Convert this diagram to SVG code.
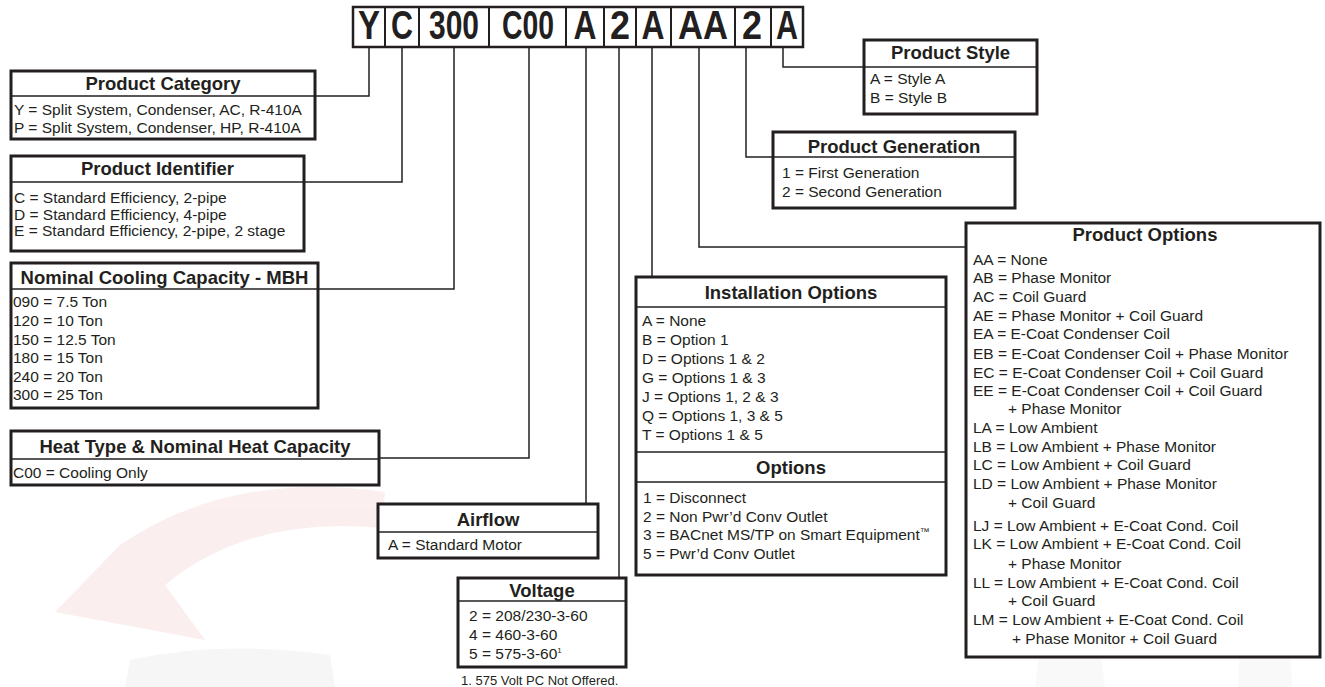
<svg xmlns="http://www.w3.org/2000/svg" width="1325" height="687" viewBox="0 0 1325 687">
<style>
.box{fill:#fff;stroke:#231f20;stroke-width:3}
.sep{stroke:#231f20;stroke-width:1.5}
.conn{fill:none;stroke:#231f20;stroke-width:1.5}
.cell{fill:#fff;stroke:#231f20;stroke-width:2}
.h{font-family:"Liberation Sans",Arial,sans-serif;font-weight:bold;font-size:18.5px;text-anchor:middle;fill:#231f20}
.t{font-family:"Liberation Sans",Arial,sans-serif;font-size:15.5px;fill:#231f20}
.fn{font-family:"Liberation Sans",Arial,sans-serif;font-size:13px;fill:#231f20}
.code{font-family:"Liberation Sans",Arial,sans-serif;font-weight:bold;font-size:40.5px;text-anchor:middle;fill:#231f20}
</style>
<rect width="1325" height="687" fill="#fff"/>
<g id="watermark" opacity="0.3">
<path d="M55,612 L120,545 Q230,470 385,492 L382,528 Q250,515 165,585 L205,640 Z" fill="#f1c9c9"/>
<path d="M130,660 Q220,640 330,655 L335,687 L125,687 Z" fill="#e4e4e8"/>
<path d="M1040,650 L1100,648 L1105,687 L1035,687 Z" fill="#ececec"/>
<path d="M1240,645 L1290,645 L1292,687 L1238,687 Z" fill="#ececec"/>
</g>
<g id="connectors">
<path class="conn" d="M369,47 V96 H315"/>
<path class="conn" d="M402,47 V182 H304"/>
<path class="conn" d="M454,47 V289 H318"/>
<path class="conn" d="M529,47 V458 H379"/>
<path class="conn" d="M586,47 V504"/>
<path class="conn" d="M619,47 V578"/>
<path class="conn" d="M652,47 V277"/>
<path class="conn" d="M699,47 V247 H966"/>
<path class="conn" d="M746,47 V157 H773"/>
<path class="conn" d="M783,47 V67 H864"/>
</g>
<g id="model-code">
<rect class="cell" x="353" y="7" width="32" height="40"/>
<rect class="cell" x="385" y="7" width="34" height="40"/>
<rect class="cell" x="419" y="7" width="70" height="40"/>
<rect class="cell" x="489" y="7" width="77" height="40"/>
<rect class="cell" x="566" y="7" width="38" height="40"/>
<rect class="cell" x="604" y="7" width="32" height="40"/>
<rect class="cell" x="636" y="7" width="35" height="40"/>
<rect class="cell" x="671" y="7" width="64" height="40"/>
<rect class="cell" x="735" y="7" width="36" height="40"/>
<rect class="cell" x="771" y="7" width="32" height="40"/>
<rect x="353" y="7" width="450" height="40" fill="none" stroke="#231f20" stroke-width="2.5"/>
<text class="code" x="369" y="39" textLength="22" lengthAdjust="spacingAndGlyphs">Y</text>
<text class="code" x="402" y="39" textLength="22" lengthAdjust="spacingAndGlyphs">C</text>
<text class="code" x="454" y="39" textLength="50" lengthAdjust="spacingAndGlyphs">300</text>
<text class="code" x="528" y="39" textLength="52" lengthAdjust="spacingAndGlyphs">C00</text>
<text class="code" x="585" y="39" textLength="23" lengthAdjust="spacingAndGlyphs">A</text>
<text class="code" x="620" y="39" textLength="20" lengthAdjust="spacingAndGlyphs">2</text>
<text class="code" x="653" y="39" textLength="23" lengthAdjust="spacingAndGlyphs">A</text>
<text class="code" x="703" y="39" textLength="50" lengthAdjust="spacingAndGlyphs">AA</text>
<text class="code" x="752" y="39" textLength="20" lengthAdjust="spacingAndGlyphs">2</text>
<text class="code" x="787" y="39" textLength="22" lengthAdjust="spacingAndGlyphs">A</text>
</g>
<g id="product-category">
<rect class="box" x="11" y="71" width="304" height="68"/>
<line class="sep" x1="11" y1="96" x2="315" y2="96"/>
<text class="h" x="163" y="89.5">Product Category</text>
<text class="t" x="14" y="114.5">Y = Split System, Condenser, AC, R-410A</text>
<text class="t" x="14" y="132.5">P = Split System, Condenser, HP, R-410A</text>
</g>
<g id="product-identifier">
<rect class="box" x="11" y="156" width="293" height="95"/>
<line class="sep" x1="11" y1="182" x2="304" y2="182"/>
<text class="h" x="157.5" y="174.5">Product Identifier</text>
<text class="t" x="14" y="202.5">C = Standard Efficiency, 2-pipe</text>
<text class="t" x="14" y="219.5">D = Standard Efficiency, 4-pipe</text>
<text class="t" x="14" y="236">E = Standard Efficiency, 2-pipe, 2 stage</text>
</g>
<g id="nominal-cooling">
<rect class="box" x="11" y="263" width="307" height="145"/>
<line class="sep" x1="11" y1="289" x2="318" y2="289"/>
<text class="h" x="164.5" y="283.5">Nominal Cooling Capacity - MBH</text>
<text class="t" x="13" y="306.5">090 = 7.5 Ton</text>
<text class="t" x="13" y="325.5">120 = 10 Ton</text>
<text class="t" x="13" y="344.5">150 = 12.5 Ton</text>
<text class="t" x="13" y="362.5">180 = 15 Ton</text>
<text class="t" x="13" y="381.5">240 = 20 Ton</text>
<text class="t" x="13" y="399.5">300 = 25 Ton</text>
</g>
<g id="heat-type">
<rect class="box" x="11" y="431" width="368" height="54"/>
<line class="sep" x1="11" y1="459" x2="379" y2="459"/>
<text class="h" x="195" y="452.5">Heat Type &amp; Nominal Heat Capacity</text>
<text class="t" x="13" y="477.5">C00 = Cooling Only</text>
</g>
<g id="airflow">
<rect class="box" x="378" y="504" width="220" height="54"/>
<line class="sep" x1="378" y1="532" x2="598" y2="532"/>
<text class="h" x="488" y="525.5">Airflow</text>
<text class="t" x="388" y="549.5">A = Standard Motor</text>
</g>
<g id="voltage">
<rect class="box" x="458" y="578" width="168" height="89"/>
<line class="sep" x1="458" y1="601" x2="626" y2="601"/>
<text class="h" x="542" y="596.5">Voltage</text>
<text class="t" x="469" y="620.5">2 = 208/230-3-60</text>
<text class="t" x="469" y="639.5">4 = 460-3-60</text>
<text class="t" x="469" y="658.5">5 = 575-3-60<tspan font-size="8" dy="-6">1</tspan></text>
<text class="fn" x="461" y="684.5">1. 575 Volt PC Not Offered.</text>
</g>
<g id="installation-options">
<rect class="box" x="636" y="277" width="310" height="298"/>
<line class="sep" x1="636" y1="307" x2="946" y2="307"/>
<line class="sep" x1="636" y1="452" x2="946" y2="452"/>
<line class="sep" x1="636" y1="482" x2="946" y2="482"/>
<text class="h" x="791" y="298.5">Installation Options</text>
<text class="t" x="642" y="325.5">A = None</text>
<text class="t" x="642" y="344.5">B = Option 1</text>
<text class="t" x="642" y="363.5">D = Options 1 &amp; 2</text>
<text class="t" x="642" y="382.5">G = Options 1 &amp; 3</text>
<text class="t" x="642" y="401.5">J = Options 1, 2 &amp; 3</text>
<text class="t" x="642" y="420.5">Q = Options 1, 3 &amp; 5</text>
<text class="t" x="642" y="439.5">T = Options 1 &amp; 5</text>
<text class="h" x="791" y="473.5">Options</text>
<text class="t" x="643" y="502.5">1 = Disconnect</text>
<text class="t" x="643" y="521.5">2 = Non Pwr’d Conv Outlet</text>
<text class="t" x="643" y="539.5">3 = BACnet MS/TP on Smart Equipment<tspan font-size="10" dy="-5">™</tspan></text>
<text class="t" x="643" y="558.5">5 = Pwr’d Conv Outlet</text>
</g>
<g id="product-options">
<rect class="box" x="966" y="223" width="354" height="434"/>
<text class="h" x="1145" y="240.5">Product Options</text>
<text class="t" x="973" y="264.5">AA = None</text>
<text class="t" x="973" y="282.5">AB = Phase Monitor</text>
<text class="t" x="973" y="301.5">AC = Coil Guard</text>
<text class="t" x="973" y="320.5">AE = Phase Monitor + Coil Guard</text>
<text class="t" x="973" y="338.5">EA = E-Coat Condenser Coil</text>
<text class="t" x="973" y="358.5">EB = E-Coat Condenser Coil + Phase Monitor</text>
<text class="t" x="973" y="377.5">EC = E-Coat Condenser Coil + Coil Guard</text>
<text class="t" x="973" y="395.5">EE = E-Coat Condenser Coil + Coil Guard</text>
<text class="t" x="1008" y="413.5">+ Phase Monitor</text>
<text class="t" x="973" y="432.5">LA = Low Ambient</text>
<text class="t" x="973" y="451.5">LB = Low Ambient + Phase Monitor</text>
<text class="t" x="973" y="469.5">LC = Low Ambient + Coil Guard</text>
<text class="t" x="973" y="488.5">LD = Low Ambient + Phase Monitor</text>
<text class="t" x="1008" y="507.5">+ Coil Guard</text>
<text class="t" x="973" y="530.5">LJ = Low Ambient + E-Coat Cond. Coil</text>
<text class="t" x="973" y="548.5">LK = Low Ambient + E-Coat Cond. Coil</text>
<text class="t" x="1008" y="568.5">+ Phase Monitor</text>
<text class="t" x="973" y="587.5">LL = Low Ambient + E-Coat Cond. Coil</text>
<text class="t" x="1008" y="605.5">+ Coil Guard</text>
<text class="t" x="973" y="624.5">LM = Low Ambient + E-Coat Cond. Coil</text>
<text class="t" x="1012" y="643.5">+ Phase Monitor + Coil Guard</text>
</g>
<g id="product-style">
<rect class="box" x="864" y="40" width="173" height="74"/>
<line class="sep" x1="864" y1="67" x2="1037" y2="67"/>
<text class="h" x="950.5" y="59">Product Style</text>
<text class="t" x="870" y="83.5">A = Style A</text>
<text class="t" x="870" y="102.5">B = Style B</text>
</g>
<g id="product-generation">
<rect class="box" x="773" y="132" width="242" height="76"/>
<line class="sep" x1="773" y1="157" x2="1015" y2="157"/>
<text class="h" x="894" y="152.5">Product Generation</text>
<text class="t" x="782" y="177.5">1 = First Generation</text>
<text class="t" x="782" y="196.5">2 = Second Generation</text>
</g>
</svg>
